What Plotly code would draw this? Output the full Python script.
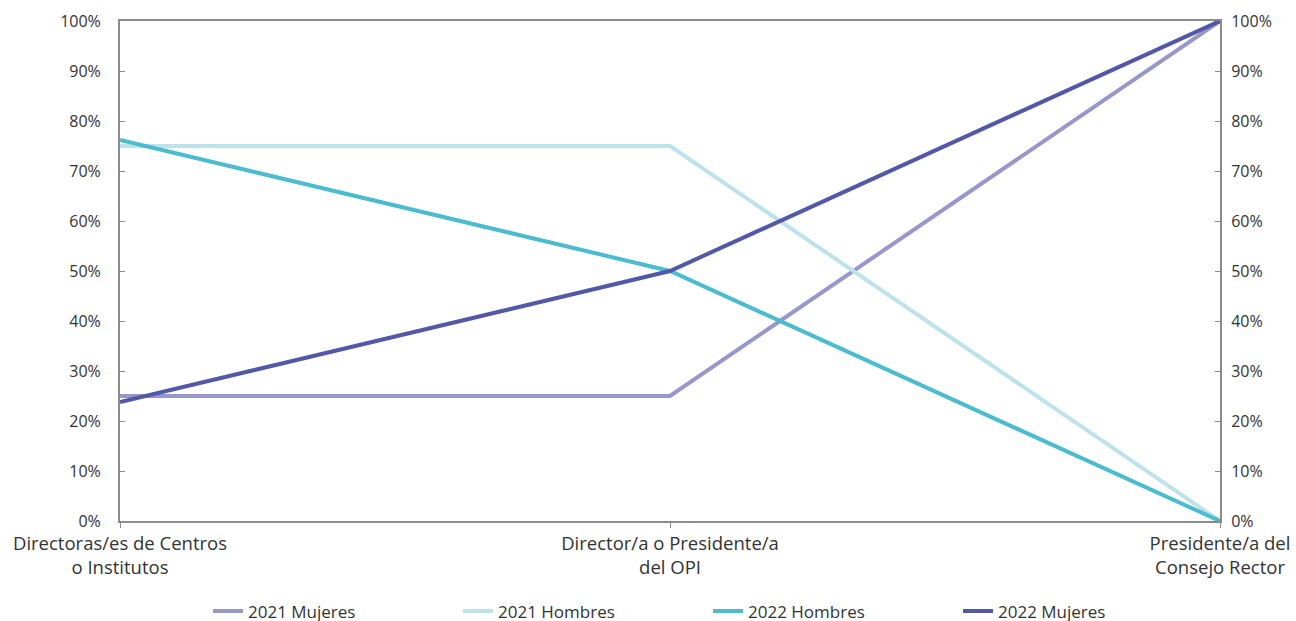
import plotly.graph_objects as go

categories = ["Directoras/es de Centros<br>o Institutos",
              "Director/a o Presidente/a<br>del OPI",
              "Presidente/a del<br>Consejo Rector"]
mujeres_2021 = [25, 25, 100]
hombres_2021 = [75, 75, 0]
hombres_2022 = [76.2, 50, 0]
mujeres_2022 = [23.8, 50, 100]
y_ticks = list(range(0, 101, 10))
y_ticktext = [f"{v}%" for v in y_ticks]

series = [
    ("2021 Mujeres", mujeres_2021, "#9996cb"),
    ("2021 Hombres", hombres_2021, "#bde2ea"),
    ("2022 Hombres", hombres_2022, "#4bbccf"),
    ("2022 Mujeres", mujeres_2022, "#5357a8"),
]

x = list(range(len(categories)))
fig = go.Figure()
for name, vals, col in series:
    fig.add_trace(go.Scatter(x=x, y=vals, mode="lines", name=name,
                             line=dict(color=col, width=4)))

axis_col = "#8a8a8a"
font_fam = "Open Sans, sans-serif"
fig.update_layout(
    width=1296, height=621,
    margin=dict(l=120, r=76, t=21, b=100, autoexpand=False),
    paper_bgcolor="white", plot_bgcolor="white",
    font=dict(family=font_fam, size=16, color="#333333"),
    showlegend=True,
    legend=dict(orientation="h", x=0.08, xanchor="left", y=-0.145, yanchor="top",
                entrywidth=205, entrywidthmode="pixels", font=dict(size=17)),
    xaxis=dict(range=[0, 2], tickvals=x, ticktext=categories,
               showline=True, linecolor=axis_col, linewidth=2, mirror=True,
               ticks="outside", ticklen=5, tickcolor=axis_col,
               showgrid=False, zeroline=False, tickfont=dict(size=18.5)),
    yaxis=dict(range=[0, 100], tickvals=y_ticks, ticktext=y_ticktext,
               showline=True, linecolor=axis_col, linewidth=2,
               ticks="inside", ticklen=5, tickcolor=axis_col,
               showgrid=False, zeroline=False, ticklabelstandoff=14),
    yaxis2=dict(range=[0, 100], tickvals=y_ticks, ticktext=y_ticktext,
                overlaying="y", side="right", anchor="x",
                showline=True, linecolor=axis_col, linewidth=2,
                ticks="inside", ticklen=5, tickcolor=axis_col,
                showgrid=False, zeroline=False, ticklabelstandoff=6),
)
fig.add_trace(go.Scatter(x=[0], y=[0], yaxis="y2", mode="lines",
                         showlegend=False, hoverinfo="skip",
                         line=dict(color="rgba(0,0,0,0)")))
fig.write_html("out.html", config={"displayModeBar": False},
               post_script="document.body.style.margin='0';document.body.style.overflow='hidden';")
